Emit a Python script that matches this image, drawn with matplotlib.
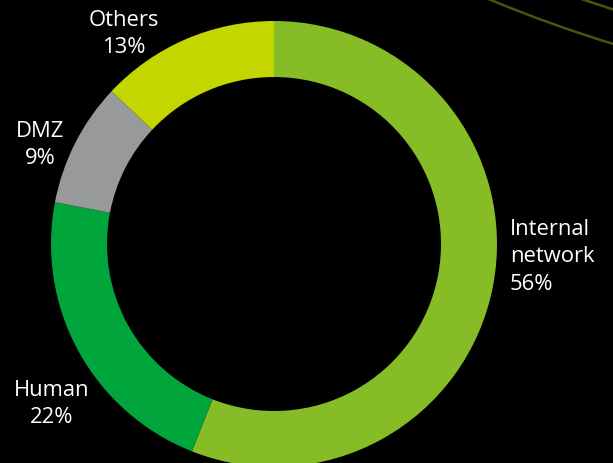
import matplotlib
matplotlib.use("Agg")
import matplotlib.pyplot as plt
from matplotlib.patches import Circle

# data
categories = ["Internal\nnetwork", "Human", "DMZ", "Others"]
shares = [56, 22, 9, 13]
colors = ["#86BC25", "#00A63C", "#97999B", "#C4D600"]

W, H = 613, 464
BG = "#000000"
TEXT = "#FFFFFF"

plt.rcParams["font.family"] = ["Open Sans", "DejaVu Sans"]

fig = plt.figure(figsize=(W / 100, H / 100), dpi=100)
fig.patch.set_facecolor(BG)
ax = fig.add_axes([0, 0, 1, 1])
ax.set_facecolor(BG)

# decorative arcs top right
for r in (1368, 1335):
    ax.add_patch(Circle((1014, H + 1263), r, fill=False, edgecolor="#3F5A10",
                        linewidth=1.8, zorder=0))

cx, cy = 274, H - 245
outer, inner = 223, 167
ax.pie(shares, colors=colors, startangle=90, counterclock=False,
       center=(cx, cy), radius=outer, frame=True,
       wedgeprops=dict(width=outer - inner, linewidth=0))
ax.set_xlim(0, W)
ax.set_ylim(0, H)
ax.set_aspect("equal")
ax.axis("off")

# labels (pixel positions from top-left)
label_pos = {
    "Internal\nnetwork": (510, 257, "left"),
    "Human": (52, 404, "center"),
    "DMZ": (40, 145, "center"),
    "Others": (124, 34, "center"),
}
for cat, val in zip(categories, shares):
    x, y, ha = label_pos[cat]
    ax.text(x, H - y, f"{cat}\n{val}%", ha=ha, va="center", color=TEXT,
            fontsize=15.8, linespacing=1.38)

fig.savefig("out.png", dpi=100, facecolor=BG)
